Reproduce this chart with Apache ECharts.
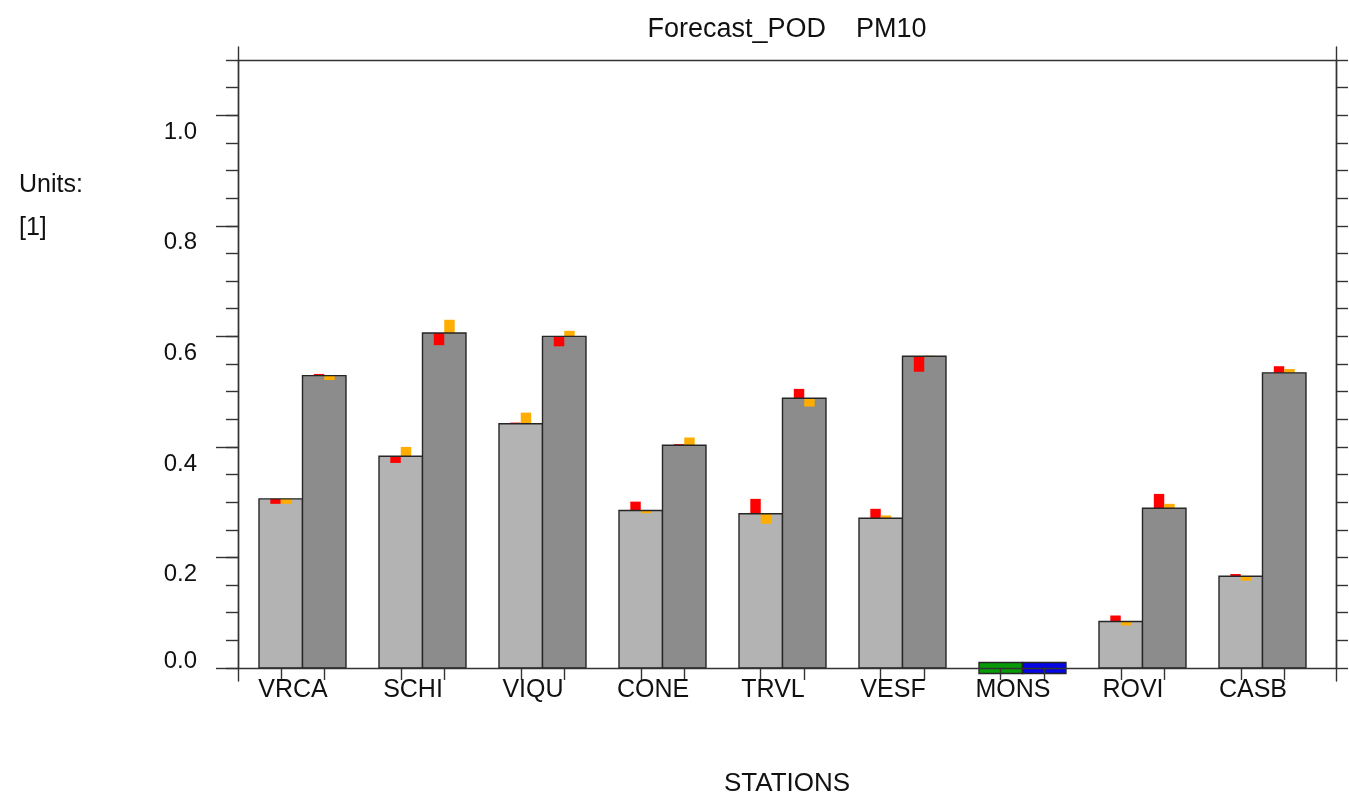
<!DOCTYPE html>
<html>
<head>
<meta charset="utf-8">
<title>Forecast_POD PM10</title>
<script src="https://cdn.jsdelivr.net/npm/echarts@6/dist/echarts.min.js"></script>
<style>
  html, body { margin: 0; padding: 0; background: #ffffff; }
  #chart { width: 1349px; height: 796px; }
</style>
</head>
<body>
<div id="chart"></div>
<script>
// Stations along the x axis
const stations = ['VRCA', 'SCHI', 'VIQU', 'CONE', 'TRVL', 'VESF', 'MONS', 'ROVI', 'CASB'];

// Probability of detection per station, two runs (light / dark bars)
const podA = [0.306, 0.383, 0.442, 0.285, 0.279, 0.271, 0, 0.084, 0.166];
const podB = [0.529, 0.606, 0.600, 0.403, 0.488, 0.564, 0, 0.289, 0.534];

// Companion values drawn as small red / orange marks on top of each bar
const redA    = [0.297, 0.371, 0.444, 0.301, 0.306, 0.288, null, 0.095, 0.170];
const orangeA = [0.297, 0.400, 0.462, 0.280, 0.261, 0.276, null, 0.077, 0.158];
const redB    = [0.532, 0.584, 0.582, 0.405, 0.505, 0.536, null, 0.315, 0.546];
const orangeB = [0.521, 0.630, 0.610, 0.417, 0.473, 0.565, null, 0.297, 0.541];

// Y axis tick labels
const yLabels = [0.2, 0.4, 0.6, 0.8, 1.0];
const yZeroLabel = [0];

// ---- layout / style constants ----
const FONT = "'Liberation Sans', Arial, Helvetica, sans-serif";
const TEXT = '#111111';
const AXIS = { color: '#333333', width: 1.4 };
const X_MIN = 0.4625;               // station i sits at x = i + 1
const X_MAX = 9.6125;
const BAR_W = 0.3625;               // width of one bar in x units
const MARK_W = BAR_W * 0.24;        // width of a red / orange mark
const ZERO_H = 0.01;                // half height of the box shown for a zero value
const FILL = ['#b3b3b3', '#8c8c8c'];
const ZERO_FILL = ['#079a07', '#0505e6'];
const RED = '#ff0000';
const ORANGE = '#ffad00';
const EDGE = '#262626';

const range = (a, b, s) => { const r = []; for (let k = 0; a + k * s <= b + 1e-9; k++) r.push(+(a + k * s).toFixed(4)); return r; };
const minorTicks = range(0, 1.1, 0.05);
const majorTicks = range(0, 1.0, 0.2);
const stationPos = stations.map((_, i) => i + 1);
const barCenters = [];
stationPos.forEach(p => { barCenters.push(p - BAR_W / 2, p + BAR_W / 2); });

const rows = stations.map((s, i) => [i + 1, podA[i], podB[i], redA[i], orangeA[i], redB[i], orangeB[i]]);

function box(api, x0, x1, y0, y1) {
  const p0 = api.coord([x0, y0]);
  const p1 = api.coord([x1, y1]);
  return {
    x: Math.min(p0[0], p1[0]), y: Math.min(p0[1], p1[1]),
    width: Math.abs(p1[0] - p0[0]), height: Math.abs(p1[1] - p0[1])
  };
}

function renderItem(params, api) {
  const x = api.value(0);
  const children = [];
  const parts = [[1, 3, 4, 0], [2, 5, 6, 1]];
  parts.forEach(([vi, ri, oi, k]) => {
    const v = api.value(vi);
    const left = k === 0 ? x - BAR_W : x;
    const right = left + BAR_W;
    const mid = (left + right) / 2;
    if (v === 0) {
      children.push({
        type: 'rect', shape: box(api, left, right, -ZERO_H, ZERO_H),
        style: { fill: ZERO_FILL[k], stroke: EDGE, lineWidth: 1.4 }
      });
      return;
    }
    children.push({ type: 'rect', shape: box(api, left, right, v, 0), style: { fill: FILL[k], stroke: null } });
    const r = api.value(ri);
    const o = api.value(oi);
    if (isFinite(r)) {
      children.push({ type: 'rect', shape: box(api, mid - MARK_W, mid, v, r), style: { fill: RED } });
    }
    if (isFinite(o)) {
      children.push({ type: 'rect', shape: box(api, mid, mid + MARK_W, v, o), style: { fill: ORANGE } });
    }
    children.push({ type: 'rect', shape: box(api, left, right, v, 0), style: { fill: null, stroke: EDGE, lineWidth: 1.4 } });
  });
  return { type: 'group', children };
}

const chart = echarts.init(document.getElementById('chart'), null, { renderer: 'canvas' });

chart.setOption({
  backgroundColor: '#ffffff',
  animation: false,
  textStyle: { fontFamily: FONT },
  title: [
    {
      text: 'Forecast_POD    PM10',
      left: 787, top: 16, textAlign: 'center', padding: 0,
      textStyle: { fontSize: 27, fontWeight: 'normal', color: TEXT, fontFamily: FONT }
    },
    {
      text: 'Units:\n[1]',
      left: 19, top: 164, padding: 0,
      textStyle: { fontSize: 25, lineHeight: 43, fontWeight: 'normal', color: TEXT, fontFamily: FONT }
    }
  ],
  grid: [
    { left: 238, right: 13, top: 60, bottom: 128, outerBoundsMode: 'none' },
    { left: 238, right: 13, top: 47, bottom: 115, outerBoundsMode: 'none' }
  ],
  xAxis: [
    {
      gridIndex: 0, type: 'value', min: X_MIN, max: X_MAX, position: 'bottom', z: 5,
      axisLine: { show: true, onZero: false, lineStyle: AXIS },
      axisTick: { show: true, customValues: barCenters, length: 12, lineStyle: AXIS },
      axisLabel: {
        show: true, customValues: stationPos, margin: 10,
        padding: [0, 19, 0, 0],
        formatter: v => stations[Math.round(v) - 1],
        fontSize: 25, color: TEXT, fontFamily: FONT
      },
      splitLine: { show: false },
      name: 'STATIONS', nameLocation: 'middle', nameGap: 103,
      nameTextStyle: { fontSize: 26, color: TEXT, fontFamily: FONT }
    },
    {
      gridIndex: 0, type: 'value', min: X_MIN, max: X_MAX, position: 'top',
      axisLine: { show: true, onZero: false, lineStyle: AXIS },
      axisTick: { show: false }, axisLabel: { show: false }, splitLine: { show: false }
    },
    {
      gridIndex: 1, type: 'value', min: X_MIN, max: X_MAX, show: false
    }
  ],
  yAxis: [
    {
      gridIndex: 0, type: 'value', min: 0, max: 1.1, position: 'left',
      axisLine: { show: true, onZero: false, lineStyle: AXIS },
      axisTick: { show: true, customValues: minorTicks, length: 12, lineStyle: AXIS },
      axisLabel: {
        show: true, customValues: yLabels, margin: 41, verticalAlign: 'top',
        padding: [5, 0, 0, 0],
        formatter: v => v.toFixed(1), fontSize: 24, color: TEXT, fontFamily: FONT
      },
      splitLine: { show: false }
    },
    {
      gridIndex: 0, type: 'value', min: 0, max: 1.1, position: 'left',
      axisLine: { show: false },
      axisTick: { show: true, customValues: majorTicks, length: 22, lineStyle: AXIS },
      axisLabel: {
        show: true, customValues: yZeroLabel, margin: 41, verticalAlign: 'bottom',
        lineHeight: 14,
        formatter: v => v.toFixed(1), fontSize: 24, color: TEXT, fontFamily: FONT
      },
      splitLine: { show: false }
    },
    {
      gridIndex: 0, type: 'value', min: 0, max: 1.1, position: 'right',
      axisLine: { show: true, onZero: false, lineStyle: AXIS },
      axisTick: { show: true, customValues: minorTicks, length: 12, lineStyle: AXIS },
      axisLabel: { show: false }, splitLine: { show: false }
    },
    {
      gridIndex: 1, type: 'value', min: 0, max: 1, position: 'left',
      axisLine: { show: true, onZero: false, lineStyle: AXIS },
      axisTick: { show: false }, axisLabel: { show: false }, splitLine: { show: false }
    },
    {
      gridIndex: 1, type: 'value', min: 0, max: 1, position: 'right',
      axisLine: { show: true, onZero: false, lineStyle: AXIS },
      axisTick: { show: false }, axisLabel: { show: false }, splitLine: { show: false }
    }
  ],
  series: [
    {
      type: 'custom',
      name: 'POD',
      coordinateSystem: 'cartesian2d',
      xAxisIndex: 0, yAxisIndex: 0,
      renderItem: renderItem,
      encode: { x: 0, y: [1, 2] },
      data: rows,
      clip: false,
      z: 2
    }
  ]
});
</script>
</body>
</html>
